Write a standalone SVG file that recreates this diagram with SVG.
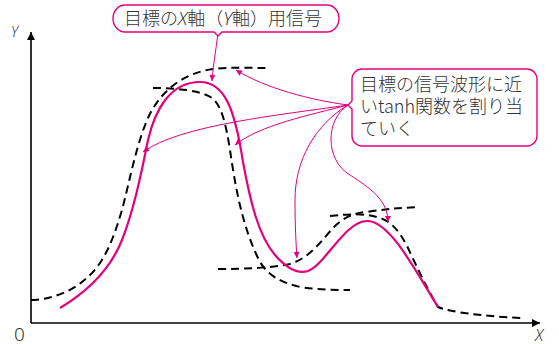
<svg xmlns="http://www.w3.org/2000/svg" width="559" height="344" viewBox="0 0 559 344">
<style>
.ax{stroke:#000;stroke-width:1.6;fill:none}
.dash{stroke:#000;stroke-width:2;fill:none;stroke-dasharray:8 5}
.sig{stroke:#e4007f;stroke-width:2.2;fill:none}
.con{stroke:#e4007f;stroke-width:1;fill:none;marker-end:url(#ah)}
.box{stroke:#e4007f;stroke-width:1.4;fill:#fff}
.t{font-family:"Noto Sans CJK JP","Noto Sans",sans-serif;font-weight:300;fill:#333}
.lab{font-family:"Noto Sans","Liberation Sans",sans-serif;font-weight:300;fill:#333}
.it{font-family:"Noto Sans","Liberation Sans",sans-serif;font-style:italic;font-weight:300}
</style>
<defs>
<marker id="ah" viewBox="0 0 10 10" refX="10" refY="5" markerWidth="8" markerHeight="6" markerUnits="userSpaceOnUse" orient="auto">
<path d="M0,0 L10,5 L0,10 Z" fill="#e4007f"/>
</marker>
<marker id="ak" viewBox="0 0 10 10" refX="10" refY="5" markerWidth="11" markerHeight="8" markerUnits="userSpaceOnUse" orient="auto">
<path d="M0,0 L10,5 L0,10 Z" fill="#000"/>
</marker>
</defs>
<g id="axes">
<path class="ax" d="M31,323 L31,32" marker-end="url(#ak)"/>
<path class="ax" d="M31,323 L540,323" marker-end="url(#ak)"/>
<text class="lab" x="11" y="37" font-size="14" font-style="italic">Y</text>
<text class="lab" x="535" y="341" font-size="16" font-style="italic">X</text>
<text class="lab" x="14" y="341" font-size="19">0</text>
</g>
<g id="curves">
<path class="dash" d="M31,300 C60,299 85,285 100,263 C110,248 116,230 122,210 C130,180 138,135 152,110 C165,88 185,73 213,69 C230,67 250,68 268,68"/>
<path class="dash" d="M153,88 C175,88 200,90 212,98 C222,106 226,125 230,150 C235,185 242,225 258,258 C266,275 280,282 300,287 C320,290 335,290 350,290"/>
<path class="dash" d="M218,269 C245,269 270,268 290,264 C310,258 322,240 333,228 C343,218 352,213 367,212 C385,209 400,208 418,207"/>
<path class="dash" d="M330,216 C350,214 365,213 380,218 C392,222 400,232 408,248 C416,265 425,285 438,307 C450,312 480,316 522,318"/>
<path class="sig" d="M60,308 C85,293 110,270 122,240 C133,212 140,180 148,140 C155,110 170,82 200,82 C225,82 235,110 243,162 C250,200 258,235 275,255 C288,270 298,274 308,271 C325,265 345,221 367,221 C390,221 415,270 438,307"/>
</g>
<g id="connectors">
<path class="con" d="M218,33 C216,50 213,65 212,81"/>
<path class="con" d="M348,105 C310,100 265,88 236,70"/>
<path class="con" d="M348,105 C280,115 180,125 143,152"/>
<path class="con" d="M348,105 C310,115 260,125 235,145"/>
<path class="con" d="M348,105 C315,125 295,160 295,200 C295,225 296,245 297,258"/>
<path class="con" d="M348,105 C325,120 325,160 350,175 C370,188 388,200 388,222"/>
</g>
<g id="label1">
<path class="box" d="M125,5 H327 A12,13.5 0 0 1 327,32 H222 L218,36 L214,32 H125 A12,13.5 0 0 1 125,5 Z"/>
<text class="t" x="124" y="25" font-size="18">目標の<tspan class="it">X</tspan>軸（<tspan class="it">Y</tspan>軸）用信号</text>
</g>
<g id="label2">
<path class="box" d="M362,69 H527 A10,10 0 0 1 537,79 V136 A10,10 0 0 1 527,146 H362 A10,10 0 0 1 352,136 V109 L348,105 L352,101 V79 A10,10 0 0 1 362,69 Z"/>
<text class="t" font-size="18"><tspan x="360" y="91">目標の信号波形に近</tspan><tspan x="360" y="113">いtanh関数を割り当</tspan><tspan x="360" y="135">ていく</tspan></text>
</g>
</svg>
